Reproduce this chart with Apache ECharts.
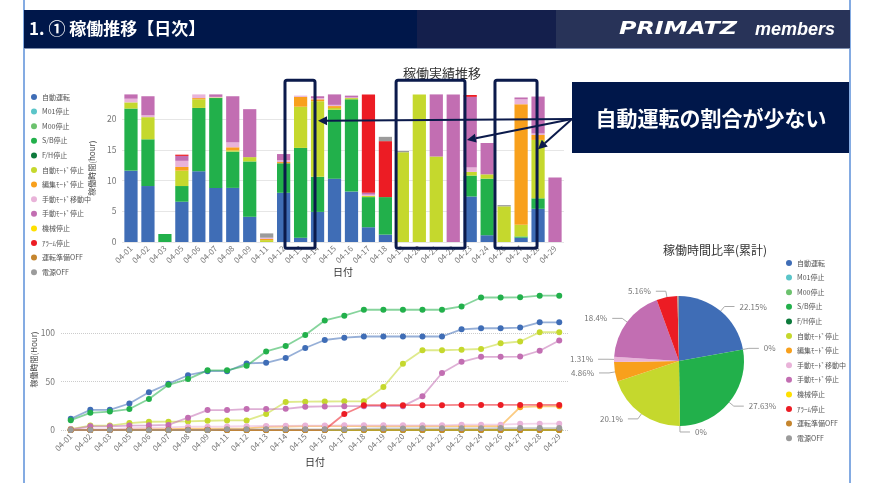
<!DOCTYPE html>
<html><head><meta charset="utf-8">
<script src="https://cdn.jsdelivr.net/npm/echarts@6/dist/echarts.min.js"></script>
<style>html,body{margin:0;padding:0;background:#fff}#c{width:870px;height:483px}</style>
</head><body><div id="c"></div>
<script>
// ---- data ----
const dates = ['04-01','04-02','04-03','04-05','04-06','04-07','04-08','04-09','04-11','04-12','04-13','04-14','04-15','04-16','04-17','04-18','04-19','04-20','04-21','04-22','04-23','04-24','04-26','04-27','04-28','04-29'];
const statusNames = ['自動運転','M01停止','M00停止','S/B停止','F/H停止','自動ﾓｰﾄﾞ停止','編集ﾓｰﾄﾞ停止','手動ﾓｰﾄﾞ移動中','手動ﾓｰﾄﾞ停止','機械停止','ｱﾗｰﾑ停止','運転準備OFF','電源OFF'];
const statusColors = ['#3f6db6','#5bc5c9','#6cc26e','#22b04b','#0d7a3c','#c5d82d','#f8a01c','#e9b3d9','#c26eb2','#ffe000','#ec1c24','#c5852e','#9b9b9b'];
// daily hours per status (one value per date)
const autoRun      = [11.6,9.1,0,6.55,11.5,8.8,8.8,4.1,0,8.0,0.7,4.9,10.3,8.2,2.4,1.2,0,0,0,0,7.4,1.1,0,0.7,5.4,0];
const m01Stop      = [0,0,0,0,0,0,0,0,0,0,0,0,0,0,0,0,0,0,0,0,0,0,0,0,0,0];
const m00Stop      = [0,0,0,0,0,0,0,0,0,0,0,0,0,0,0,0,0,0,0,0,0,0,0,0,0,0];
const sbStop       = [10.1,7.6,1.3,2.55,10.3,14.6,5.9,9.0,0,4.8,14.6,5.7,11.2,15.0,4.9,6.1,0,0,0,0,3.4,9.2,0,0.2,1.7,0];
const fhStop       = [0,0,0,0,0,0,0,0,0,0,0,0,0,0,0,0,0,0,0,0,0,0,0,0,0,0];
const autoModeStop = [1.0,3.6,0,2.5,1.4,0.1,0.2,0.7,0.3,0,6.7,12.3,0.3,0.2,0.2,0,14.6,24.0,13.9,0,0.6,0.7,5.8,1.9,9.5,0];
const editModeStop = [0,0,0,0.6,0.2,0,0.5,0,0.2,0.2,1.6,0.3,0.3,0,0,0,0,0,0,0,0,0,0,19.6,0.8,0];
const manualMove   = [0.6,0.3,0,1.0,0.6,0.1,0.8,0,0.2,0.3,0.2,0.2,0.2,0.1,0.2,0,0,0,0,0,0.7,0,0,0.8,0.25,0];
const manualStop   = [0.7,3.1,0,0.8,0.2,0.4,7.5,7.8,0,1.0,0,0.3,2.1,0.3,0.3,0,0,0,10.1,24.0,11.5,5.1,0,0.3,6.0,10.5];
const machineStop  = [0,0,0,0,0,0,0,0,0,0,0,0,0,0,0,0,0,0,0,0,0,0,0,0,0,0];
const alarmStop    = [0,0,0,0.2,0,0,0,0,0,0,0,0,0,0,16.2,9.1,0,0,0,0,0.3,0,0,0,0,0];
const readyOff     = [0,0,0,0,0,0,0,0,0,0,0,0,0,0,0,0,0,0,0,0,0,0,0,0,0,0];
const powerOff     = [0,0,0,0,0,0,0,0,0.7,0,0,0,0,0,0,0.7,0.2,0,0.15,0,0,0,0.2,0,0,0];
const dailyByStatus = [autoRun,m01Stop,m00Stop,sbStop,fhStop,autoModeStop,editModeStop,manualMove,manualStop,machineStop,alarmStop,readyOff,powerOff];
const pieLabelHidden = ['M00停止','機械停止','運転準備OFF','電源OFF'];

(function(){
// ---- derived ----
const cumulative = arr => { let s = 0; return arr.map(v => +(s += v).toFixed(2)); };
const total = arr => +arr.reduce((a,b)=>a+b,0).toFixed(2);
const FONT = '"Noto Sans CJK JP", "Noto Sans", sans-serif';

const barSeries = statusNames.map((n,i)=>({
  name:n, type:'bar', stack:'day', xAxisIndex:0, yAxisIndex:0,
  barCategoryGap:'22%', itemStyle:{color:statusColors[i]}, data:dailyByStatus[i]
}));
const lineSeries = statusNames.map((n,i)=>({
  name:n, type:'line', xAxisIndex:1, yAxisIndex:1, symbol:'circle', symbolSize:6,
  itemStyle:{color:statusColors[i]}, lineStyle:{width:1.8, opacity:0.55, color:statusColors[i]},
  data:cumulative(dailyByStatus[i])
}));
const pieSeries = {
  type:'pie', center:[679,361], radius:65, startAngle:90, clockwise:true,
  avoidLabelOverlap:true, percentPrecision:2,
  label:{fontSize:8, color:'#777', fontFamily:FONT, formatter: p => (+p.percent) + '%'},
  labelLine:{length:6, length2:10, lineStyle:{color:'#aaa', width:1}},
  data: statusNames.map((n,i)=>({
    name:n, value: total(dailyByStatus[i]), itemStyle:{color:statusColors[i]},
    label:{show:!pieLabelHidden.includes(n)}, labelLine:{show:!pieLabelHidden.includes(n)}
  }))
};

const axisLabelStyle = {fontSize:8, color:'#777', fontFamily:FONT};
const legendCommon = {
  orient:'vertical', icon:'circle', itemWidth:6, itemHeight:6, itemGap:6.6,
  textStyle:{fontSize:7, lineHeight:8, color:'#555', fontFamily:FONT}, data:statusNames, selectedMode:false
};

const option = {
  animation:false,
  textStyle:{fontFamily:FONT},
  title:[
    {text:'稼働実績推移', left:437, top:62, textAlign:'center', textStyle:{fontSize:13, fontWeight:'normal', color:'#333', fontFamily:FONT}},
    {text:'稼働時間比率(累計)', left:710, top:239, textAlign:'center', textStyle:{fontSize:12, fontWeight:'normal', color:'#333', fontFamily:FONT}}
  ],
  legend:[
    Object.assign({left:26, top:88}, legendCommon),
    Object.assign({left:781, top:254}, legendCommon)
  ],
  grid:[
    {left:122.5, right:306.5, top:94.4, bottom:241},
    {left:61, right:301, top:289, bottom:53}
  ],
  xAxis:[
    {type:'category', gridIndex:0, data:dates, axisLine:{show:false}, axisTick:{show:false},
     axisLabel:Object.assign({rotate:45, interval:0, margin:5}, axisLabelStyle),
     name:'日付', nameLocation:'middle', nameGap:25, nameTextStyle:{fontSize:10, color:'#333', fontFamily:FONT}},
    {type:'category', gridIndex:1, data:dates, boundaryGap:true, axisLine:{show:false}, axisTick:{show:false},
     axisLabel:Object.assign({rotate:45, interval:0, margin:5}, axisLabelStyle),
     name:'日付', nameLocation:'middle', nameGap:27, nameTextStyle:{fontSize:10, color:'#333', fontFamily:FONT}}
  ],
  yAxis:[
    {type:'value', gridIndex:0, min:0, max:24, interval:5,
     axisLabel:Object.assign({showMaxLabel:false, margin:6}, axisLabelStyle, {fontSize:8.5}),
     splitLine:{show:true, showMaxLine:false, lineStyle:{type:'dotted', color:'#ccc'}},
     name:'稼働時間(hour)', nameLocation:'middle', nameGap:20, nameRotate:90,
     nameTextStyle:{fontSize:8, color:'#444', fontFamily:FONT}},
    {type:'value', gridIndex:1, min:0, max:145, interval:50,
     axisLabel:Object.assign({showMaxLabel:false, margin:6}, axisLabelStyle, {fontSize:8.5}),
     splitLine:{show:true, showMaxLine:false, lineStyle:{type:'dotted', color:'#ccc'}},
     name:'稼働時間(Hour)', nameLocation:'middle', nameGap:23, nameMoveOverlap:false, nameRotate:90,
     nameTextStyle:{fontSize:8, color:'#444', fontFamily:FONT}}
  ],
  series: barSeries.concat(lineSeries, [pieSeries])
};

const chart = echarts.init(document.getElementById('c'));
chart.setOption(option);

// ---- annotations (positioned from the bar axis) ----
const bx = i => chart.convertToPixel({xAxisIndex:0}, i);
const by = v => chart.convertToPixel({yAxisIndex:0}, v);
const x0 = bx(0), bw = bx(1) - bx(0);
const boxSpans = [[9.08,10.85],[15.63,19.69],[21.46,23.94]];
const arrowTipValues = [19.7, 16.6, 15.1];
const NAVY = '#0b1a4b';
const g = [];
g.push({type:'line', shape:{x1:24,y1:0,x2:24,y2:483}, style:{stroke:'#5b8fd8', lineWidth:1.5}, z:100});
g.push({type:'line', shape:{x1:850,y1:0,x2:850,y2:483}, style:{stroke:'#5b8fd8', lineWidth:1.5}, z:100});
g.push({type:'rect', shape:{x:24,y:10,width:393,height:38}, style:{fill:'#00174a'}, z:100});
g.push({type:'rect', shape:{x:417,y:10,width:139,height:38}, style:{fill:'#141f4c'}, z:100});
g.push({type:'rect', shape:{x:556,y:10,width:294,height:38}, style:{fill:'#283358'}, z:100});
g.push({type:'line', shape:{x1:24,y1:48.5,x2:850,y2:48.5}, style:{stroke:'#7f8fb0', lineWidth:1}, z:100});
g.push({type:'text', x:29, y:29, style:{text:'1. ① 稼働推移【日次】', fill:'#fff', font:'bold 17px '+FONT, verticalAlign:'middle'}, z:101});
g.push({type:'text', x:619, y:30, scaleX:1.4, originX:0, style:{text:'PRIMATZ', fill:'#fff', font:'italic 900 17px "DejaVu Sans", sans-serif', verticalAlign:'middle'}, z:101});
g.push({type:'text', x:835, y:30, style:{text:'members', fill:'#fff', font:'italic bold 18px "Liberation Sans", Arial, sans-serif', verticalAlign:'middle', align:'right'}, z:101});
const boxes = boxSpans.map(([a,b]) => ({l:x0+a*bw, r:x0+b*bw}));
const boxTop = by(26.3), boxBot = by(-1.0);
boxes.forEach(b => g.push({type:'rect', shape:{x:b.l, y:boxTop, width:b.r-b.l, height:boxBot-boxTop, r:2},
  style:{fill:'none', stroke:NAVY, lineWidth:3}, z:100}));
const cx = 572, cy = 119;
g.push({type:'rect', shape:{x:572,y:82,width:277,height:71}, style:{fill:'#00174a'}, z:100});
g.push({type:'text', x:711, y:118, style:{text:'自動運転の割合が少ない', fill:'#fff', font:'bold 21px '+FONT, align:'center', verticalAlign:'middle'}, z:101});
const tips = [[boxes[0].r+3, by(arrowTipValues[0])],[boxes[1].r+2, by(arrowTipValues[1])],[boxes[2].r+1, by(arrowTipValues[2])]];
tips.forEach(([tx,ty]) => {
  const dx = tx-cx, dy = ty-cy, len = Math.hypot(dx,dy), ux = dx/len, uy = dy/len;
  const hl = 9, hw = 4.5;
  const bxp = tx-ux*hl, byp = ty-uy*hl;
  g.push({type:'line', shape:{x1:cx,y1:cy,x2:bxp,y2:byp}, style:{stroke:NAVY, lineWidth:2}, z:100});
  g.push({type:'polygon', shape:{points:[[tx,ty],[bxp-uy*hw, byp+ux*hw],[bxp+uy*hw, byp-ux*hw]]}, style:{fill:NAVY}, z:100});
});
chart.setOption({graphic:{elements:g}});
})();
</script>
</body></html>
